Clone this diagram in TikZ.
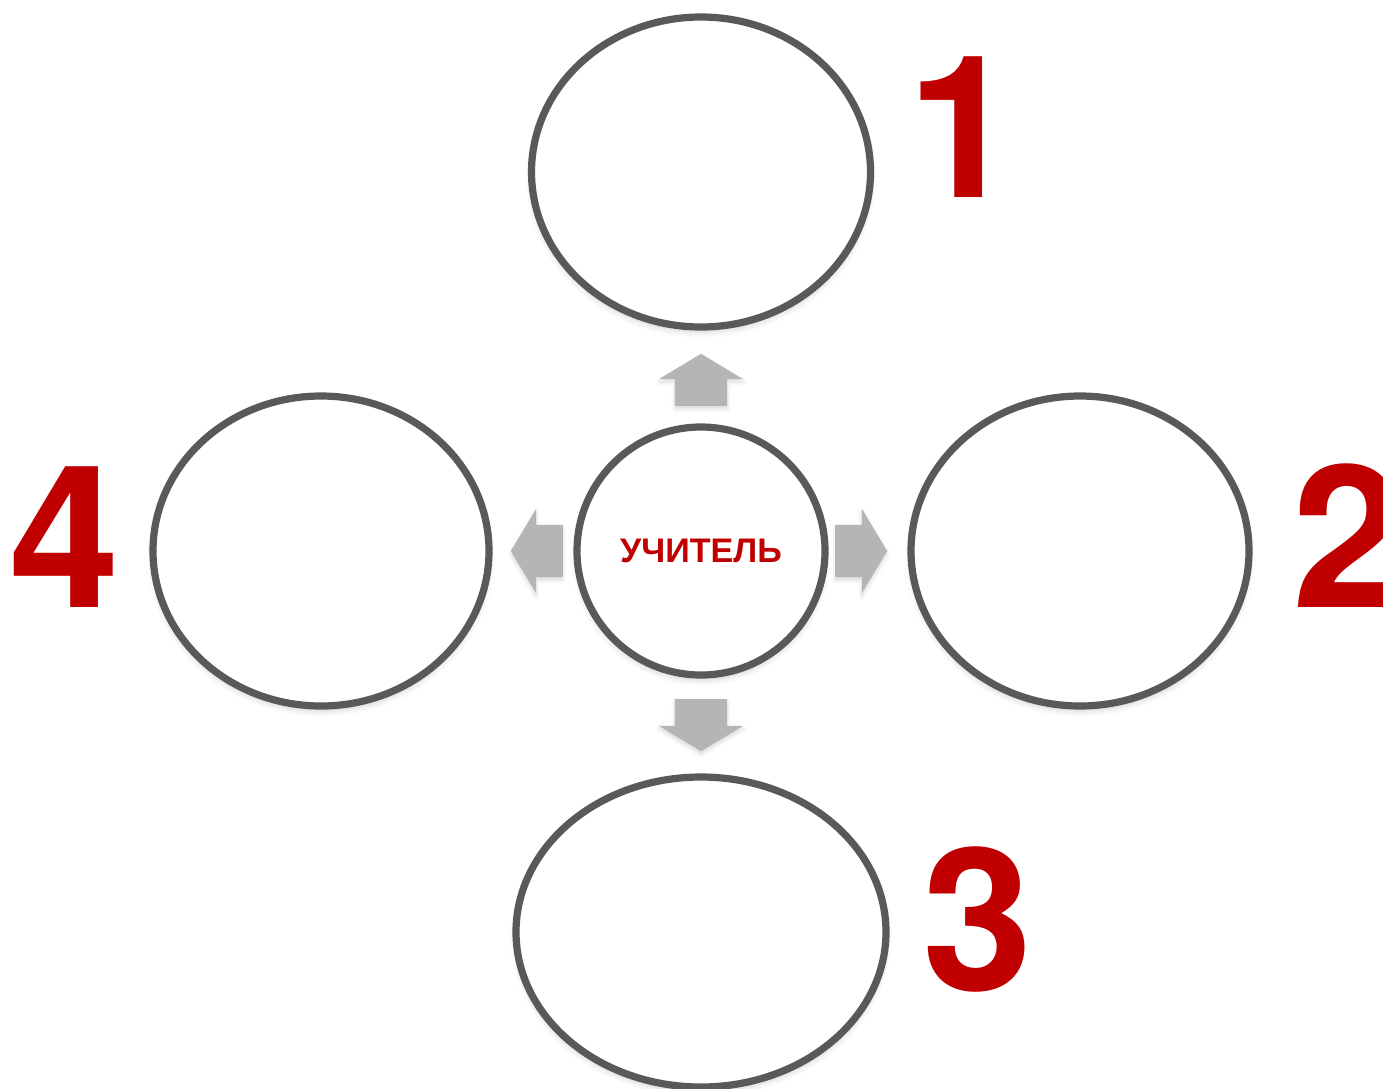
\documentclass[tikz,border=0pt]{standalone}
\usepackage{fontspec}
\setmainfont{Liberation Sans}
\newfontfamily\digitfont{TeX Gyre Heros}
\usetikzlibrary{
  positioning,
  shapes.geometric,
  shapes.arrows,
  shadows.blur
}
\definecolor{RingGray}{RGB}{89,89,89}
\definecolor{ArrowGray}{RGB}{181,181,181}
\definecolor{MarkRed}{RGB}{192,0,0}
\tikzset{
  ring/.style={ellipse,draw=RingGray,line width=0.072cm,fill=white,inner sep=0pt,blur shadow={shadow xshift=0pt,shadow yshift=-0.05cm,shadow opacity=18,shadow blur radius=0.06cm}},
  teachernode/.style={ring,minimum width=2.48cm,minimum height=2.48cm,font=\bfseries\fontsize{9.7}{11}\selectfont,text=MarkRed},
  topicnode/.style={ring,minimum height=3.10cm},
  blockarrow/.style={single arrow,fill=ArrowGray,draw=none,inner xsep=0pt,inner ysep=0.255cm,minimum height=0.52cm,single arrow head extend=0.16cm,single arrow tip angle=118,anchor=tip,blur shadow={shadow xshift=0pt,shadow yshift=-0.03cm,shadow opacity=15,shadow blur radius=0.04cm}},
  numlabel/.style={anchor=base,inner sep=0pt,text=MarkRed,font=\digitfont\bfseries\fontsize{56.5}{60}\selectfont}
}

\begin{document}
\begin{tikzpicture}
\useasboundingbox (0,0) rectangle (13.83,-10.88);
\node[teachernode] (teacher) at (7.01,-5.51) {УЧИТЕЛЬ};
\node[topicnode,minimum width=3.39cm] (top) at (7.01,-1.72) {};
\node[topicnode,minimum width=3.38cm] (right) at (10.80,-5.51) {};
\node[topicnode,minimum width=3.36cm] (left) at (3.21,-5.51) {};
\node[topicnode,minimum width=3.70cm] (bottom) at (7.01,-9.32) {};
\node[blockarrow,rotate=90] (uparrow) at (7.01,-3.53) {};
\node[blockarrow] (rightarrow) at (8.88,-5.51) {};
\node[blockarrow,rotate=180] (leftarrow) at (5.10,-5.51) {};
\node[blockarrow,rotate=270] (downarrow) at (7.01,-7.52) {};
\node[numlabel] (one) at (9.63,-1.97) {1};
\node[numlabel] (two) at (13.48,-6.07) {2};
\node[numlabel] (three) at (9.78,-9.90) {3};
\node[numlabel] (four) at (0.65,-6.07) {4};
\end{tikzpicture}
\end{document}
